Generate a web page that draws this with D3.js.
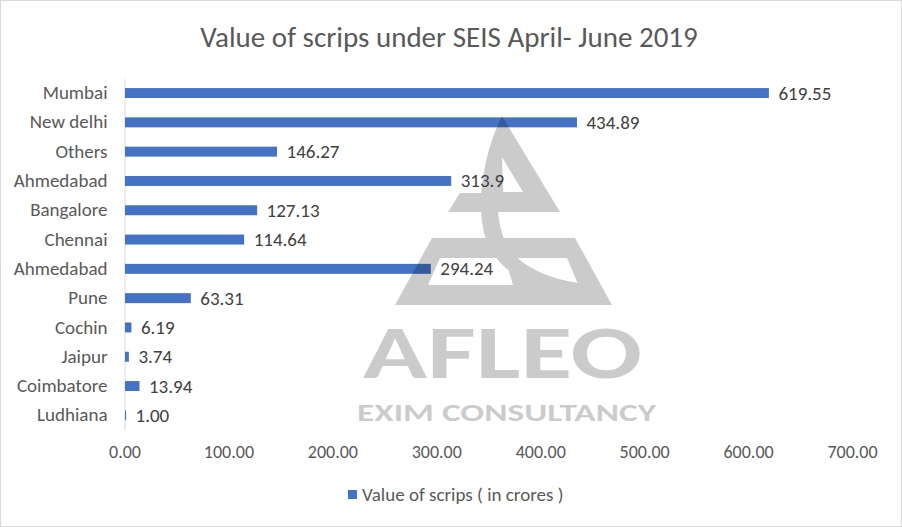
<!DOCTYPE html>
<html>
<head>
<meta charset="utf-8">
<script src="https://cdn.jsdelivr.net/npm/d3@7"></script>
<style>
  html, body { margin: 0; padding: 0; background: #fff; }
  svg text { font-family: Carlito, Calibri, "Liberation Sans", Arial, sans-serif; }
</style>
</head>
<body>
<div id="chart"></div>
<script>
// data
const cities = ["Mumbai", "New delhi", "Others", "Ahmedabad", "Bangalore", "Chennai",
  "Ahmedabad", "Pune", "Cochin", "Jaipur", "Coimbatore", "Ludhiana"];
const values = [619.55, 434.89, 146.27, 313.9, 127.13, 114.64, 294.24, 63.31, 6.19, 3.74, 13.94, 1.00];
const valueLabels = ["619.55", "434.89", "146.27", "313.9", "127.13", "114.64",
  "294.24", "63.31", "6.19", "3.74", "13.94", "1.00"];
const xTicks = [0, 100, 200, 300, 400, 500, 600, 700];
const seriesName = "Value of scrips ( in crores )";
const chartTitle = "Value of scrips under SEIS April- June 2019";

const width = 902, height = 527;
const barColor = "#4472c4";
const font = "Carlito, Calibri, 'Liberation Sans', Arial, sans-serif";

const svg = d3.select("#chart").append("svg")
  .attr("width", width)
  .attr("height", height);

// chart border
svg.append("rect")
  .attr("x", 0.5).attr("y", 0.5)
  .attr("width", width - 1).attr("height", height - 1)
  .attr("fill", "#fff")
  .attr("stroke", "#d9d9d9");

const x = d3.scaleLinear().domain([0, 700]).range([124.5, 852]);
const y = d3.scaleBand()
  .domain(d3.range(cities.length))
  .range([78.4, 430])
  .paddingInner(0.66)
  .paddingOuter(0.33);

// title
svg.append("text")
  .attr("x", 449).attr("y", 47)
  .attr("text-anchor", "middle")
  .attr("font-size", 29)
  .attr("fill", "#595959")
  .text(chartTitle);

// x axis tick labels (no gridlines in the original)
const xAxis = d3.axisBottom(x).tickValues(xTicks).tickFormat(d3.format(".2f")).tickSize(0);
const gx = svg.append("g")
  .attr("transform", "translate(0,442)")
  .call(xAxis);
gx.select(".domain").remove();
gx.selectAll("text")
  .attr("font-size", 18)
  .attr("fill", "#595959")
  .attr("font-family", font);

// y axis with category labels
const yAxis = d3.axisLeft(y).tickFormat(i => cities[i]).tickSize(0).tickPadding(17);
const gy = svg.append("g")
  .attr("transform", "translate(" + x(0) + ",0)")
  .call(yAxis);
gy.select(".domain").attr("stroke", "#d9d9d9");
gy.selectAll("text")
  .attr("font-size", 19)
  .attr("fill", "#595959")
  .attr("font-family", font);

// bars
svg.append("g")
  .selectAll("rect")
  .data(values)
  .join("rect")
  .attr("x", x(0) + 0.5)
  .attr("y", (d, i) => y(i))
  .attr("width", d => x(d) - x(0))
  .attr("height", y.bandwidth())
  .attr("fill", barColor);

// watermark logo (semi transparent, sits over the bars)
const wm = svg.append("g").attr("opacity", 0.2).attr("fill", "#000");
wm.append("path")
  .attr("fill-rule", "evenodd")
  .attr("d", "M502,116 L560,212 L448,212 L460,193 L490,193 L497,150 Z " +
    "M502,157 L523,192 L503,192 Z");
wm.append("path")
  .attr("fill-rule", "evenodd")
  .attr("d", "M432,238 L575,238 L612,305 L395,305 Z " +
    "M440,258 L505,258 L513,285 L428,285 Z " +
    "M512,258 L567,258 L578,284 L540,284 Z");
wm.append("path")
  .attr("d", "M502,116 C480,160 470,230 498,260 C520,285 560,303 612,305 " +
    "L578,283 C545,278 520,265 508,247 C495,225 495,185 502,157 Z");
wm.append("text")
  .attr("x", 363).attr("y", 378)
  .attr("font-size", 74)
  .attr("font-weight", "bold")
  .attr("font-family", "'DejaVu Sans', sans-serif")
  .attr("textLength", 279)
  .attr("lengthAdjust", "spacingAndGlyphs")
  .text("AFLEO");
wm.append("text")
  .attr("x", 357).attr("y", 421)
  .attr("font-size", 25)
  .attr("font-weight", "bold")
  .attr("font-family", "'DejaVu Sans', sans-serif")
  .attr("textLength", 299)
  .attr("lengthAdjust", "spacingAndGlyphs")
  .text("EXIM  CONSULTANCY");

// data labels
svg.append("g")
  .selectAll("text")
  .data(values)
  .join("text")
  .attr("x", d => x(d) + 10)
  .attr("y", (d, i) => y(i) + y.bandwidth() / 2)
  .attr("dy", "0.34em")
  .attr("font-size", 19)
  .attr("fill", "#404040")
  .text((d, i) => valueLabels[i]);

// legend
const legend = svg.append("g").attr("transform", "translate(348,495)");
legend.append("rect")
  .attr("x", 0).attr("y", -5)
  .attr("width", 9).attr("height", 9)
  .attr("fill", barColor);
legend.append("text")
  .attr("x", 14).attr("y", 0)
  .attr("dy", "0.33em")
  .attr("font-size", 19)
  .attr("fill", "#595959")
  .text(seriesName);
</script>
</body>
</html>
